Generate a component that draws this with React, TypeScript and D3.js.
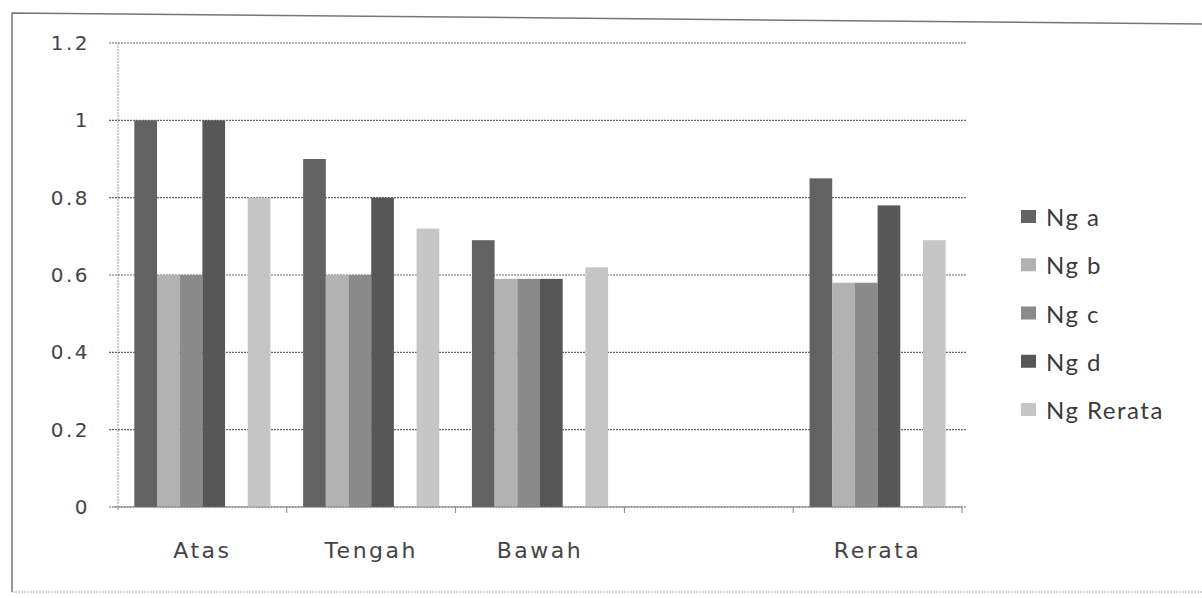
import { useEffect, useRef } from 'react';
import * as d3 from 'd3';

const categories = ['Atas', 'Tengah', 'Bawah', '', 'Rerata'];
// the 5th slot in each group is empty in the original chart
const seriesNames = ['Ng a', 'Ng b', 'Ng c', 'Ng d', '_gap', 'Ng Rerata'];
const legendNames = ['Ng a', 'Ng b', 'Ng c', 'Ng d', 'Ng Rerata'];

const ngA = [1.0, 0.9, 0.69, null, 0.85];
const ngB = [0.6, 0.6, 0.59, null, 0.58];
const ngC = [0.6, 0.6, 0.59, null, 0.58];
const ngD = [1.0, 0.8, 0.59, null, 0.78];
const ngRerata = [0.8, 0.72, 0.62, null, 0.69];

const yTicks = [0, 0.2, 0.4, 0.6, 0.8, 1, 1.2];

const colors: Record<string, string> = {
  'Ng a': '#626262',
  'Ng b': '#b2b2b2',
  'Ng c': '#8a8a8a',
  'Ng d': '#575757',
  'Ng Rerata': '#c6c6c6',
};

const App = () => {
  const ref = useRef<SVGSVGElement | null>(null);

  useEffect(() => {
    const svg = d3.select(ref.current);
    svg.selectAll('*').remove();

    const left = 118, right = 962, top = 43, bottom = 507;

    // chart border (scan is slightly tilted)
    svg.append('path')
      .attr('d', 'M12,592 L12,13 L1202,24')
      .attr('fill', 'none').attr('stroke', '#777').attr('stroke-width', 1.5);
    svg.append('line')
      .attr('x1', 12).attr('x2', 1202).attr('y1', 592).attr('y2', 592)
      .attr('stroke', '#aaa').attr('stroke-dasharray', '2,1');

    const x0 = d3.scaleBand().domain(categories.map((c, i) => c + i)).range([left, right]).padding(0);
    const x1 = d3.scaleBand().domain(seriesNames).range([0, x0.bandwidth()]).paddingInner(0).paddingOuter(0.72);
    const y = d3.scaleLinear().domain([0, 1.2]).range([bottom, top]);

    const g = svg.append('g');

    // gridlines
    g.selectAll('.grid')
      .data(yTicks)
      .enter().append('line')
      .attr('x1', left - 9).attr('x2', right + 5)
      .attr('y1', d => y(d)).attr('y2', d => y(d))
      .attr('stroke', '#666').attr('stroke-width', 1.2).attr('stroke-dasharray', '2,1');

    // y axis line
    g.append('line')
      .attr('x1', left).attr('x2', left).attr('y1', top).attr('y2', bottom + 4)
      .attr('stroke', '#999').attr('stroke-dasharray', '2,1');

    // y labels
    g.selectAll('.ylab')
      .data(yTicks)
      .enter().append('text')
      .attr('x', 90).attr('y', d => y(d) + 7)
      .attr('text-anchor', 'end')
      .attr('font-family', 'DejaVu Sans')
      .attr('font-size', 20)
      .attr('letter-spacing', 2.5)
      .attr('fill', '#444')
      .text(d => String(d));

    // x tick marks
    const bounds = x0.domain().map(k => x0(k)! + x0.bandwidth());
    g.selectAll('.xtick')
      .data(bounds)
      .enter().append('line')
      .attr('x1', d => d).attr('x2', d => d)
      .attr('y1', bottom).attr('y2', bottom + 6)
      .attr('stroke', '#888');

    // bars
    const series: Record<string, (number | null)[]> = {
      'Ng a': ngA, 'Ng b': ngB, 'Ng c': ngC, 'Ng d': ngD, 'Ng Rerata': ngRerata,
    };
    const rows: { cat: string; name: string; v: number }[] = [];
    categories.forEach((c, i) => {
      legendNames.forEach(n => {
        const v = series[n][i];
        if (v != null) rows.push({ cat: c + i, name: n, v });
      });
    });

    g.selectAll('.bar')
      .data(rows)
      .enter().append('rect')
      .attr('x', d => x0(d.cat)! + x1(d.name)!)
      .attr('width', x1.bandwidth())
      .attr('y', d => y(d.v))
      .attr('height', d => bottom - y(d.v))
      .attr('fill', d => colors[d.name]);

    // x axis line
    g.append('line')
      .attr('x1', left - 4).attr('x2', right).attr('y1', bottom).attr('y2', bottom)
      .attr('stroke', '#777').attr('stroke-dasharray', '2,1');

    // category labels
    g.selectAll('.xlab')
      .data(categories.map((c, i) => ({ c, k: c + i })))
      .enter().append('text')
      .attr('x', d => x0(d.k)! + x0.bandwidth() / 2)
      .attr('y', 558)
      .attr('text-anchor', 'middle')
      .attr('font-family', 'DejaVu Sans')
      .attr('font-size', 22)
      .attr('letter-spacing', 2.5)
      .attr('fill', '#444')
      .text(d => d.c);

    // legend
    const leg = svg.append('g');
    const ly = d3.scalePoint().domain(legendNames).range([217, 410]);
    legendNames.forEach(n => {
      const cy = ly(n)!;
      leg.append('rect')
        .attr('x', 1021).attr('y', cy - 7).attr('width', 15).attr('height', 13)
        .attr('fill', colors[n]);
      leg.append('text')
        .attr('x', 1046).attr('y', cy + 9)
        .attr('font-family', 'Lato')
        .attr('font-size', 24)
        .attr('letter-spacing', 1.5)
        .attr('fill', '#3a3a3a')
        .text(n);
    });
  }, []);

  return (
    <svg ref={ref} width={1202} height={598}
      style={{ position: 'absolute', left: 0, top: 0, background: '#fff' }} />
  );
};

export default App;
